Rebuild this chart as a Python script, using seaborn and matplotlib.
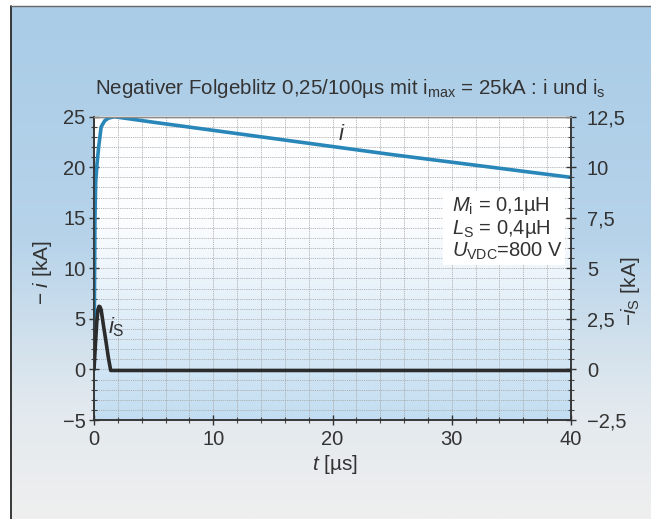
import numpy as np
import pandas as pd
import matplotlib
matplotlib.use("Agg")
import matplotlib.pyplot as plt
from matplotlib.colors import LinearSegmentedColormap
from matplotlib.ticker import FixedLocator, FuncFormatter
from matplotlib.patches import Rectangle
import seaborn as sns

# ---------------- data ----------------
t_i = [0, 0.04, 0.08, 0.14, 0.25, 0.39, 0.6, 0.9, 1.2, 1.7, 5, 10, 15, 20, 25, 30, 35, 40]
i_kA = [0, 8, 15, 18.5, 20.3, 22, 24, 24.6, 24.85, 25.0, 24.45, 23.65, 22.85, 22.05, 21.25, 20.5, 19.75, 19.0]

t_is = [0, 0.12, 0.24, 0.33, 0.42, 0.5, 0.6, 0.8, 1.0, 1.2, 1.4, 40]
is_kA = [0, 1.25, 2.4, 2.95, 3.12, 3.1, 2.95, 2.15, 1.4, 0.6, -0.05, -0.05]

x_major = [0, 10, 20, 30, 40]
y_left_major = [-5, 0, 5, 10, 15, 20, 25]
y_right_major = [-2.5, 0, 2.5, 5, 7.5, 10, 12.5]

title = r"Negativer Folgeblitz 0,25/100µs mit $\mathrm{i}_{\mathrm{max}}$ = 25kA : i und $\mathrm{i}_{\mathrm{s}}$"
params = [r"$M_{\mathrm{i}}$ = 0,1µH", r"$L_{\mathrm{S}}$ = 0,4µH", r"$U_{\mathrm{VDC}}$=800 V"]

# ---------------- style ----------------
sns.set_style("ticks")
plt.rcParams['font.family'] = ['Liberation Sans', 'DejaVu Sans']
plt.rcParams['mathtext.fontset'] = 'custom'
plt.rcParams['mathtext.rm'] = 'Liberation Sans'
plt.rcParams['mathtext.it'] = 'Liberation Sans:italic'
plt.rcParams['mathtext.bf'] = 'Liberation Sans:bold'
plt.rcParams['mathtext.sf'] = 'Liberation Sans'
TXT = '#333333'

W, H = 651, 519
fig = plt.figure(figsize=(W / 100, H / 100), dpi=100)
fig.patch.set_facecolor('white')

# background with gradient (pixel coordinates)
bg = fig.add_axes([0, 0, 1, 1], zorder=-10)
bg.axis('off')
outer = LinearSegmentedColormap.from_list('outer', [(0, '#aacce7'), (0.45, '#b6d3ea'), (0.78, '#e2e9ee'), (1, '#efefef')])
grad = np.linspace(0, 1, 256).reshape(-1, 1)
bg.imshow(grad, cmap=outer, extent=(11, W, H, 6), aspect='auto', origin='upper')
bg.plot([11, 11], [6, H], color='#2a2a2a', lw=1.3)
bg.plot([11, W], [6, 6], color='#666666', lw=1.0)

L, R, T, B = 94, 571, 116.7, 420
inner = LinearSegmentedColormap.from_list('inner', [(0, '#ffffff'), (0.35, '#fbfdff'), (1, '#c2ddf1')])
bg.imshow(grad, cmap=inner, extent=(L, R, B, T), aspect='auto', origin='upper')
bg.set_xlim(0, W)
bg.set_ylim(H, 0)

ax = fig.add_axes([L / W, 1 - B / H, (R - L) / W, (B - T) / H])
ax.set_facecolor('none')
ax2 = ax.twinx()
ax2.set_facecolor('none')

sns.lineplot(x=t_i, y=i_kA, ax=ax, color='#2886b8', lw=2.6, sort=False,
             solid_joinstyle='round', solid_capstyle='round', zorder=3)
sns.lineplot(x=t_is, y=is_kA, ax=ax2, color='#2b2b2b', lw=2.6, sort=False,
             solid_joinstyle='round', solid_capstyle='round', zorder=3)

ax.set_xlim(0, 40)
ax.set_ylim(-5, 25)
ax2.set_ylim(-2.5, 12.5)

def fmt(v, pos=None):
    return ('%g' % v).replace('.', ',').replace('-', '\u2212')

ax.xaxis.set_major_locator(FixedLocator(x_major))
ax.xaxis.set_minor_locator(FixedLocator(np.arange(0, 41, 2)))
ax.yaxis.set_major_locator(FixedLocator(y_left_major))
ax.yaxis.set_minor_locator(FixedLocator(np.arange(-5, 26, 1)))
ax2.yaxis.set_major_locator(FixedLocator(y_right_major))
ax2.yaxis.set_minor_locator(FixedLocator(np.arange(-2.5, 12.6, 0.5)))
for a in (ax, ax2):
    a.xaxis.set_major_formatter(FuncFormatter(fmt))
    a.yaxis.set_major_formatter(FuncFormatter(fmt))

ax.grid(True, which='both', color='#a8a8a8', lw=0.55, ls=(0, (1.6, 1.2)))
ax.set_axisbelow(True)
ax.set_xlabel('')
ax.set_ylabel('')
ax2.set_ylabel('')

LS = 14.5
ax.tick_params(axis='both', which='major', direction='inout', length=7, width=1, colors='#333333',
               labelsize=LS, labelcolor=TXT)
ax.tick_params(axis='both', which='minor', direction='inout', length=5, width=0.8, colors='#444444')
ax.tick_params(axis='x', which='major', pad=4)
ax.tick_params(axis='y', which='major', pad=2.5)
ax2.tick_params(axis='y', which='major', direction='inout', length=7, width=1, colors='#333333',
                labelsize=LS, labelcolor=TXT, pad=8)
ax2.tick_params(axis='y', which='minor', direction='inout', length=5, width=0.8, colors='#444444')

for a in (ax, ax2):
    for s in ('left', 'right', 'bottom'):
        a.spines[s].set_visible(True)
        a.spines[s].set_color('#333333')
        a.spines[s].set_linewidth(1.1)
    a.spines['top'].set_visible(True)
    a.spines['top'].set_color('#8a8a8a')
    a.spines['top'].set_linewidth(1.0)

# annotations on curves
ax.text(20.8, 23.2, '$i$', fontsize=16, color=TXT, ha='center', va='center')
ax.text(1.85, 4.2, r'$i_{\mathrm{S}}$', fontsize=16, color=TXT, ha='center', va='center')

# parameter box
ax.add_patch(Rectangle((29.3, 10.3), 10.2, 7.4, facecolor='white', edgecolor='none', zorder=2))
for txt, yv in zip(params, [16.2, 13.9, 11.7]):
    ax.text(30.0, yv, txt, fontsize=14.5, color=TXT, ha='left', va='center', zorder=4)

# titles / labels (figure pixel positions)
fig.text(350 / W, 1 - 88 / H, title, fontsize=14.8, color=TXT, ha='center', va='center')
fig.text(335 / W, 1 - 465 / H, r'$t$ [µs]', fontsize=15, color=TXT, ha='center', va='center')
fig.text(43 / W, 1 - 273 / H, '\u2212 $i$ [kA]', fontsize=15, color=TXT, ha='center', va='center', rotation=90)
fig.text(630 / W, 1 - 291 / H, '\u2212$i_{\\mathrm{S}}$ [kA]', fontsize=15, color=TXT, ha='center', va='center', rotation=90)

fig.savefig('out.png', dpi=100)
